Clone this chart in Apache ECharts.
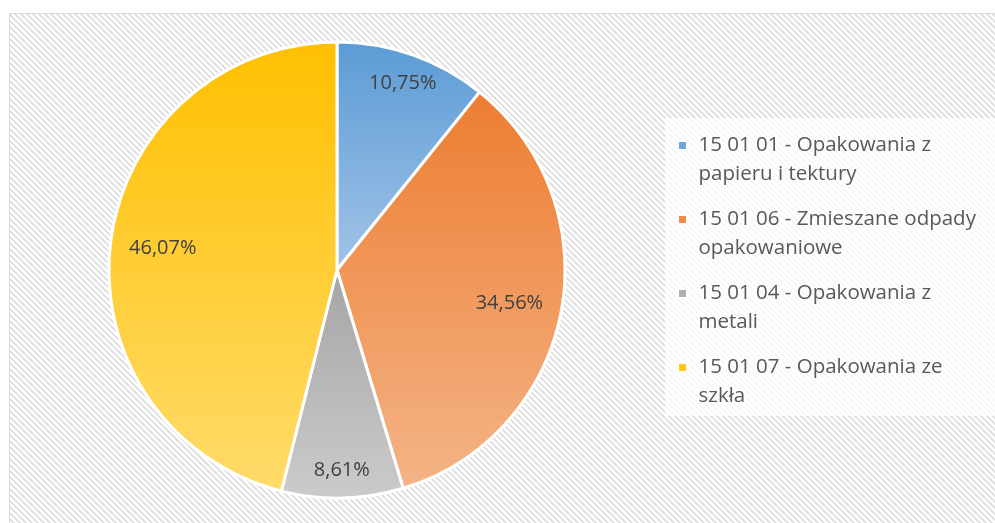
<!DOCTYPE html>
<html>
<head>
<meta charset="utf-8">
<script src="https://cdn.jsdelivr.net/npm/echarts@6/dist/echarts.min.js"></script>
<style>
    html, body { margin: 0; padding: 0; background: #fff; }
    #container { width: 995px; height: 523px; }
</style>
</head>
<body>
<div id="container"></div>
<script>
// dane wykresu
var categories = [
    "15 01 01 - Opakowania z\npapieru i tektury",
    "15 01 06 - Zmieszane odpady\nopakowaniowe",
    "15 01 04 - Opakowania z\nmetali",
    "15 01 07 - Opakowania ze\nszkła"
];
var shares = [10.75, 34.56, 8.61, 46.07];

// kolory gradientu (gora -> dol) dla kazdego wycinka
var topColors = ["#5b9bd5", "#ed7d31", "#a5a5a5", "#ffc000"];
var bottomColors = ["#a2c4e8", "#f4b487", "#cbcbcb", "#ffdb6a"];
// promien etykiety jako ulamek promienia kola
var labelRadius = [0.87, 0.77, 0.88, 0.77];

var cx = 337, cy = 270, R = 228;

// wzor ukosnych linii tla
function makeHatch() {
    var n = 6;
    var c = document.createElement('canvas');
    c.width = n; c.height = n;
    var ctx = c.getContext('2d');
    var img = ctx.createImageData(n, n);
    for (var y = 0; y < n; y++) {
        for (var x = 0; x < n; x++) {
            var k = ((x - y) % n + n) % n;
            var v = k < 3 ? 226 : 255;
            var p = (y * n + x) * 4;
            img.data[p] = v; img.data[p + 1] = v; img.data[p + 2] = v; img.data[p + 3] = 255;
        }
    }
    ctx.putImageData(img, 0, 0);
    return c;
}

var total = 0;
for (var i = 0; i < shares.length; i++) total += shares[i];

var pieData = [];
for (var i = 0; i < shares.length; i++) {
    pieData.push({
        name: categories[i],
        value: shares[i],
        itemStyle: {
            color: new echarts.graphic.LinearGradient(0, 0, 0, 1, [
                { offset: 0, color: topColors[i] },
                { offset: 1, color: bottomColors[i] }
            ])
        }
    });
}

var myChart = echarts.init(document.getElementById('container'));

var option = {
    animation: false,
    backgroundColor: '#fff',
    graphic: [
        {
            type: 'rect',
            z: -10,
            shape: { x: 9.5, y: 13.5, width: 1000, height: 520 },
            style: { fill: { image: makeHatch(), repeat: 'repeat' }, stroke: '#d9d9d9', lineWidth: 1 }
        },
        {
            type: 'rect',
            z: -5,
            shape: { x: 665, y: 118, width: 340, height: 298 },
            style: { fill: 'rgba(255,255,255,0.75)' }
        }
    ],
    legend: {
        orient: 'vertical',
        left: 678,
        top: 130.5,
        padding: 0,
        itemGap: 15,
        itemWidth: 15,
        itemHeight: 58,
        // kwadrat przy pierwszej linii opisu
        icon: 'path://M0,0 M15,58 M0,10.5 L8,10.5 L8,18.5 L0,18.5 Z',
        itemStyle: { borderColor: '#fff', borderWidth: 1 },
        selectedMode: false,
        data: categories,
        textStyle: {
            fontFamily: 'Open Sans',
            fontSize: 20.5,
            color: '#595959',
            lineHeight: 29
        }
    },
    series: [
        {
            type: 'pie',
            center: [cx, cy],
            radius: [0, R],
            startAngle: 90,
            clockwise: true,
            data: pieData,
            itemStyle: { borderColor: '#fff', borderWidth: 3 },
            emphasis: { disabled: true },
            label: {
                show: true,
                position: 'inside',
                fontFamily: 'Open Sans',
                fontSize: 20,
                color: '#404040',
                formatter: function (p) {
                    return p.value.toFixed(2).replace('.', ',') + '%';
                }
            },
            labelLine: { show: false },
            labelLayout: function (params) {
                var idx = params.dataIndex;
                var cum = 0;
                for (var j = 0; j < idx; j++) cum += shares[j];
                var mid = (90 - (cum + shares[idx] / 2) / total * 360) * Math.PI / 180;
                var r = R * labelRadius[idx];
                return {
                    x: cx + r * Math.cos(mid),
                    y: cy - r * Math.sin(mid),
                    align: 'center',
                    verticalAlign: 'middle'
                };
            }
        }
    ]
};

myChart.setOption(option);
</script>
</body>
</html>
